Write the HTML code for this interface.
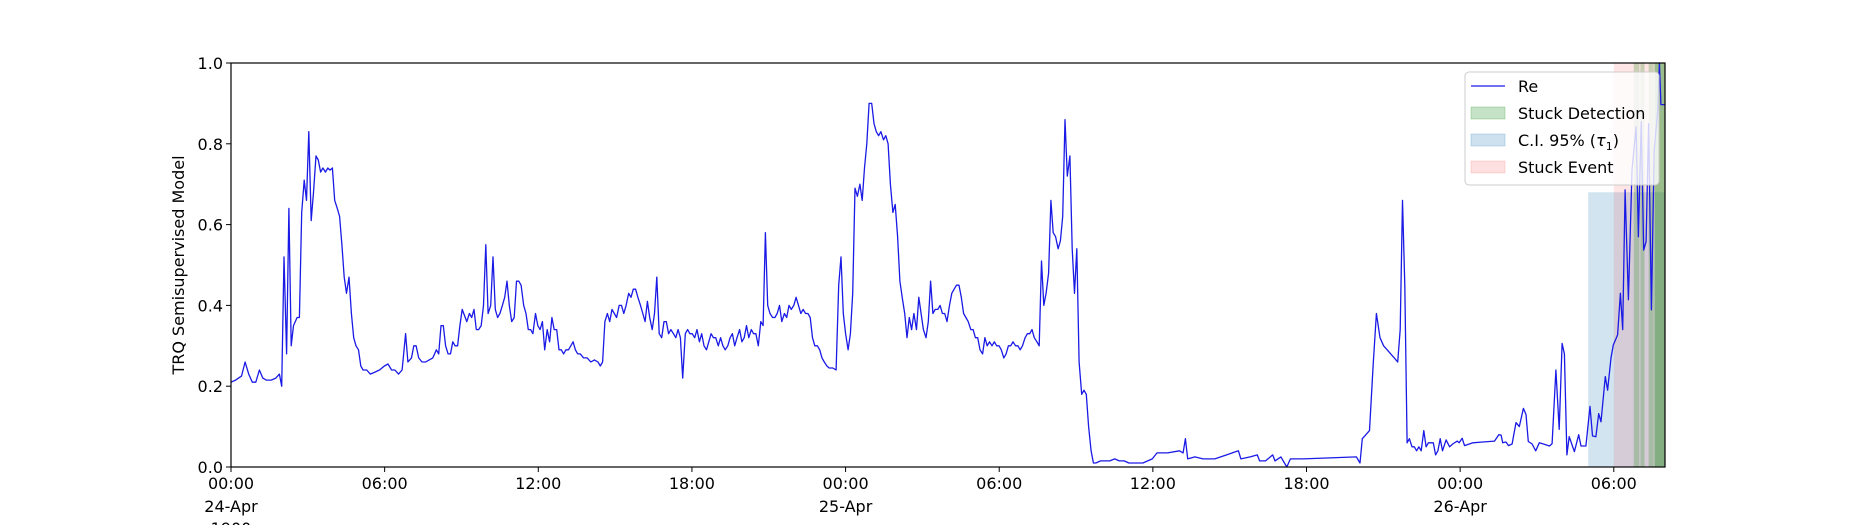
<!DOCTYPE html>
<html><head><meta charset="utf-8"><style>
html,body{margin:0;padding:0;background:#fff;}
svg{display:block;font-family:"DejaVu Sans","Liberation Sans",sans-serif;}
</style></head><body>
<svg id="chart" width="1850" height="525" viewBox="0 0 1850 525">
<g id="spans"></g>
<g id="line"></g>
<g id="axes"></g>
<g id="legend"></g>
</svg>
<script>
const hours = [0.00,0.18,0.41,0.55,0.69,0.83,0.97,1.11,1.24,1.38,1.57,1.75,1.89,1.98,2.07,2.17,2.26,2.35,2.44,2.58,2.67,2.76,2.86,2.95,3.04,3.13,3.22,3.32,3.41,3.50,3.59,3.69,3.78,3.87,3.96,4.05,4.15,4.24,4.33,4.42,4.51,4.61,4.70,4.79,4.88,4.98,5.07,5.16,5.30,5.44,5.62,5.80,5.99,6.13,6.27,6.40,6.54,6.68,6.82,6.91,7.05,7.14,7.23,7.33,7.46,7.60,7.74,7.88,8.02,8.11,8.20,8.29,8.38,8.48,8.57,8.66,8.75,8.85,8.94,9.03,9.12,9.21,9.31,9.40,9.49,9.58,9.67,9.77,9.86,9.95,10.04,10.14,10.23,10.32,10.41,10.50,10.60,10.69,10.78,10.87,10.96,11.06,11.15,11.24,11.33,11.43,11.52,11.61,11.70,11.79,11.89,11.98,12.07,12.16,12.25,12.35,12.44,12.53,12.62,12.72,12.81,12.90,12.99,13.08,13.18,13.27,13.36,13.45,13.54,13.64,13.77,13.91,14.05,14.19,14.33,14.42,14.51,14.60,14.70,14.79,14.88,14.97,15.06,15.16,15.25,15.34,15.43,15.53,15.62,15.71,15.80,15.89,15.99,16.08,16.17,16.26,16.35,16.45,16.54,16.63,16.72,16.82,16.91,17.00,17.09,17.18,17.28,17.37,17.46,17.55,17.64,17.74,17.83,17.92,18.01,18.11,18.20,18.29,18.38,18.47,18.57,18.66,18.75,18.84,18.93,19.03,19.12,19.21,19.30,19.40,19.49,19.58,19.67,19.76,19.86,19.95,20.04,20.13,20.22,20.32,20.41,20.50,20.59,20.69,20.78,20.87,20.96,21.05,21.15,21.24,21.33,21.42,21.51,21.61,21.70,21.79,21.88,21.98,22.07,22.16,22.25,22.34,22.44,22.53,22.62,22.71,22.80,22.90,22.99,23.08,23.17,23.27,23.36,23.50,23.63,23.73,23.82,23.91,24.00,24.10,24.19,24.28,24.37,24.46,24.56,24.65,24.74,24.83,24.92,25.02,25.11,25.20,25.29,25.38,25.48,25.57,25.66,25.75,25.85,25.94,26.03,26.12,26.21,26.31,26.40,26.49,26.58,26.67,26.77,26.86,26.95,27.04,27.14,27.23,27.32,27.41,27.50,27.60,27.69,27.78,27.87,27.96,28.06,28.15,28.24,28.33,28.43,28.52,28.61,28.70,28.79,28.89,28.98,29.07,29.16,29.25,29.35,29.44,29.53,29.62,29.72,29.81,29.90,29.99,30.08,30.18,30.27,30.36,30.45,30.54,30.64,30.73,30.82,30.91,31.01,31.10,31.19,31.28,31.37,31.47,31.56,31.65,31.74,31.83,31.93,32.02,32.11,32.20,32.30,32.39,32.48,32.57,32.66,32.76,32.85,32.94,33.03,33.12,33.22,33.31,33.40,33.49,33.59,33.68,33.77,33.96,34.14,34.32,34.51,34.69,34.88,35.06,35.24,35.43,35.61,35.80,35.98,36.16,36.58,37.04,37.18,37.27,37.36,37.64,37.96,38.42,38.88,39.34,39.44,39.80,40.08,40.17,40.40,40.68,40.77,41.00,41.23,41.37,41.88,43.95,44.09,44.18,44.32,44.46,44.60,44.73,44.87,45.01,45.15,45.29,45.43,45.56,45.66,45.75,45.84,45.93,46.02,46.12,46.21,46.30,46.39,46.48,46.58,46.67,46.76,46.85,46.95,47.04,47.13,47.22,47.31,47.45,47.59,47.71,47.89,47.96,48.08,48.17,48.50,48.88,49.34,49.51,49.60,49.66,49.79,49.89,50.03,50.18,50.31,50.47,50.57,50.66,50.81,50.95,51.09,51.25,51.49,51.59,51.74,51.87,51.98,52.07,52.17,52.26,52.46,52.63,52.72,52.91,53.07,53.17,53.30,53.41,53.50,53.67,53.76,53.89,53.98,54.15,54.26,54.35,54.44,54.57,54.71,54.87,54.96,55.07,55.17,55.26,55.36,55.47,55.58,55.72,55.78,55.84,56.00];
const values = [0.21,0.215,0.225,0.26,0.23,0.21,0.21,0.24,0.22,0.215,0.215,0.22,0.23,0.20,0.52,0.28,0.64,0.30,0.35,0.37,0.37,0.63,0.71,0.66,0.83,0.61,0.68,0.77,0.76,0.73,0.74,0.73,0.74,0.735,0.74,0.66,0.64,0.62,0.55,0.47,0.43,0.47,0.38,0.32,0.30,0.29,0.25,0.24,0.24,0.23,0.235,0.24,0.25,0.255,0.24,0.24,0.23,0.24,0.33,0.26,0.27,0.30,0.30,0.27,0.26,0.26,0.265,0.27,0.29,0.28,0.35,0.35,0.30,0.28,0.28,0.31,0.30,0.30,0.35,0.39,0.375,0.36,0.38,0.37,0.39,0.34,0.34,0.35,0.40,0.55,0.38,0.40,0.52,0.39,0.37,0.38,0.40,0.42,0.46,0.40,0.36,0.37,0.46,0.46,0.45,0.40,0.38,0.34,0.34,0.33,0.38,0.35,0.34,0.36,0.29,0.34,0.31,0.37,0.34,0.34,0.29,0.29,0.28,0.29,0.29,0.30,0.31,0.29,0.28,0.28,0.27,0.27,0.26,0.265,0.26,0.25,0.26,0.36,0.38,0.36,0.39,0.38,0.37,0.40,0.40,0.38,0.40,0.43,0.42,0.44,0.44,0.42,0.40,0.38,0.36,0.41,0.37,0.34,0.38,0.47,0.33,0.32,0.36,0.36,0.33,0.34,0.33,0.32,0.34,0.32,0.22,0.33,0.34,0.33,0.33,0.32,0.34,0.31,0.33,0.30,0.29,0.31,0.33,0.32,0.32,0.30,0.32,0.30,0.29,0.30,0.32,0.33,0.30,0.32,0.34,0.31,0.32,0.35,0.32,0.34,0.33,0.33,0.30,0.36,0.35,0.58,0.40,0.38,0.37,0.37,0.38,0.40,0.36,0.38,0.37,0.40,0.39,0.40,0.42,0.40,0.38,0.39,0.38,0.38,0.37,0.32,0.30,0.30,0.29,0.27,0.26,0.25,0.245,0.245,0.24,0.45,0.52,0.38,0.33,0.29,0.33,0.43,0.69,0.67,0.70,0.66,0.74,0.80,0.90,0.90,0.85,0.83,0.82,0.83,0.81,0.82,0.80,0.70,0.63,0.65,0.57,0.46,0.42,0.38,0.32,0.37,0.34,0.38,0.34,0.42,0.38,0.34,0.32,0.36,0.46,0.38,0.39,0.39,0.40,0.38,0.38,0.36,0.40,0.43,0.44,0.45,0.45,0.42,0.38,0.37,0.36,0.34,0.34,0.32,0.32,0.29,0.28,0.32,0.30,0.31,0.30,0.31,0.30,0.30,0.29,0.27,0.28,0.30,0.30,0.31,0.30,0.30,0.29,0.30,0.32,0.33,0.33,0.34,0.32,0.31,0.30,0.51,0.40,0.43,0.48,0.66,0.58,0.57,0.54,0.56,0.62,0.86,0.72,0.77,0.54,0.43,0.54,0.26,0.18,0.19,0.18,0.10,0.04,0.01,0.01,0.015,0.015,0.015,0.02,0.015,0.015,0.01,0.01,0.01,0.01,0.015,0.02,0.035,0.035,0.04,0.035,0.07,0.02,0.025,0.02,0.02,0.03,0.04,0.02,0.025,0.03,0.015,0.015,0.03,0.015,0.025,0.0,0.02,0.02,0.025,0.01,0.07,0.08,0.09,0.25,0.38,0.32,0.30,0.29,0.28,0.27,0.26,0.34,0.66,0.45,0.06,0.07,0.05,0.05,0.04,0.05,0.04,0.09,0.05,0.06,0.06,0.06,0.03,0.04,0.07,0.04,0.067,0.05,0.057,0.064,0.06,0.071,0.053,0.06,0.062,0.064,0.08,0.079,0.06,0.062,0.053,0.057,0.11,0.10,0.145,0.13,0.063,0.057,0.04,0.06,0.057,0.052,0.058,0.24,0.093,0.306,0.28,0.03,0.075,0.038,0.08,0.052,0.052,0.15,0.077,0.075,0.132,0.112,0.224,0.19,0.27,0.302,0.327,0.43,0.34,0.686,0.414,0.735,0.842,0.57,0.855,0.537,0.558,0.85,0.389,0.785,0.884,1.0,0.897,0.897];
const ciSpan = [53.0, 56.0];
const ciTop = 0.68;
const eventSpan = [54.0, 56.0];
const detStarts = [54.78, 55.04, 55.36, 55.59, 55.59];
const detEnds = [55.0, 55.2, 55.56, 56.0, 56.0];
const xTickHours = [0, 6, 12, 18, 24, 30, 36, 42, 48, 54];
const xTickLabels = ["00:00","06:00","12:00","18:00","00:00","06:00","12:00","18:00","00:00","06:00"];
const xTickDates = {0:"24-Apr",24:"25-Apr",48:"26-Apr"};
const yTicks = [0.0,0.2,0.4,0.6,0.8,1.0];

const L=231,R=1665,T=63,B=467,HMAX=56;
const NS='http://www.w3.org/2000/svg';
function xs(h){return L+(h/HMAX)*(R-L);}
function ys(v){return B-v*(B-T);}
function mk(tag,attrs,parent){const e=document.createElementNS(NS,tag);for(const k in attrs)e.setAttribute(k,attrs[k]);parent.appendChild(e);return e;}
const gS=document.getElementById('spans'),gL=document.getElementById('line'),gA=document.getElementById('axes'),gG=document.getElementById('legend');

let r=mk('rect',{x:xs(ciSpan[0]),y:ys(ciTop),width:xs(ciSpan[1])-xs(ciSpan[0]),height:ys(0)-ys(ciTop),fill:'rgba(31,119,180,0.2)'},gS);


r=mk('rect',{x:xs(eventSpan[0]),y:T,width:xs(eventSpan[1])-xs(eventSpan[0]),height:B-T,fill:'rgba(255,0,0,0.1)'},gS);


for(let i=0;i<detStarts.length;i++){
  const d=mk('rect',{x:xs(detStarts[i]),y:T,width:xs(detEnds[i])-xs(detStarts[i]),height:B-T,fill:'rgba(0,128,0,0.22)'},gS);
  
  
}
let pts=hours.map((h,i)=>xs(h).toFixed(1)+','+ys(values[i]).toFixed(1)).join(' ');
const pl=mk('polyline',{points:pts,fill:'none',stroke:'#1a1ae6','stroke-width':1.3,'stroke-linejoin':'round'},gL);



const fr=mk('rect',{x:L,y:T,width:R-L,height:B-T,fill:'none',stroke:'#000','stroke-width':1.2},gA);


yTicks.forEach(v=>{
  mk('line',{x1:L-5,x2:L,y1:ys(v),y2:ys(v),stroke:'#000','stroke-width':1},gA);
  const t=mk('text',{x:L-8,y:ys(v)+6,'text-anchor':'end','font-size':16,fill:'#000'},gA);
  t.textContent=v.toFixed(1);
  
  
});
xTickHours.forEach((h,i)=>{
  mk('line',{x1:xs(h),x2:xs(h),y1:B,y2:B+5,stroke:'#000','stroke-width':1},gA);
  const t=mk('text',{x:xs(h),y:B+22,'text-anchor':'middle','font-size':16,fill:'#000'},gA);
  t.textContent=xTickLabels[i];
  
  
  if(xTickDates[h]){
    const d=mk('text',{x:xs(h),y:B+45,'text-anchor':'middle','font-size':16,fill:'#000'},gA);
    d.textContent=xTickDates[h];
    
    
  }
});
const yr=mk('text',{x:xs(0),y:B+67,'text-anchor':'middle','font-size':16,fill:'#000'},gA);
yr.textContent='1900';


const yl=mk('text',{x:0,y:0,'text-anchor':'middle','font-size':16,fill:'#000',transform:'translate(184,'+((T+B)/2)+') rotate(-90)'},gA);
yl.textContent='TRQ Semisupervised Model';



const lb=mk('rect',{x:1465,y:72,width:194,height:113,rx:4,fill:'rgba(255,255,255,0.8)',stroke:'#ccc','stroke-width':1},gG);


const entries=[['Re','line','#1a1ae6'],['Stuck Detection','patch','rgba(0,128,0,0.22)'],['C.I. 95% (','patch','rgba(31,119,180,0.22)'],['Stuck Event','patch','rgba(255,0,0,0.12)']];
entries.forEach((e,i)=>{
  const cy=86+i*27;
  if(e[1]==='line'){mk('line',{x1:1471,x2:1505,y1:cy,y2:cy,stroke:e[2],'stroke-width':1.3},gG);}
  else{mk('rect',{x:1471,y:cy-6,width:34,height:12,fill:e[2],stroke:e[2]},gG);}
  const t=mk('text',{x:1518,y:cy+6,'font-size':16,fill:'#000'},gG);
  t.textContent=e[0];
  if(i===2){
    const a=mk('tspan',{'font-style':'italic'},t);a.textContent='τ';
    const b=mk('tspan',{'font-size':11,dy:4},t);b.textContent='1';
    const c=mk('tspan',{dy:-4},t);c.textContent=')';
  }
  
  
});
</script>
</body></html>
